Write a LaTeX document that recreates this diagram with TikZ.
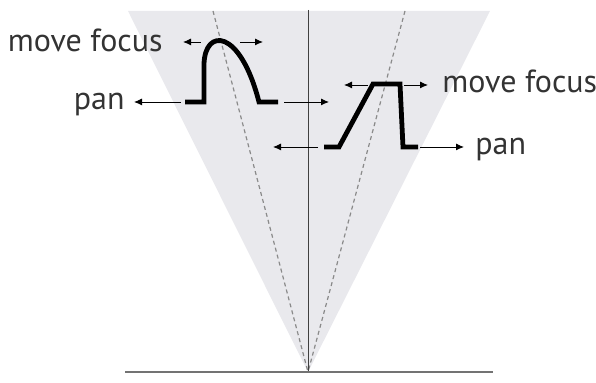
\documentclass[tikz,border=0pt]{standalone}
\usepackage{fontspec}
\setmainfont{PT Sans}
\usepackage{xcolor}
\usetikzlibrary{arrows.meta}

\definecolor{conegray}{HTML}{E9E9ED}
\definecolor{dashgray}{HTML}{8A8A8A}

\begin{document}
\begin{tikzpicture}[
  x=0.5pt,
  y=-0.5pt,
  label text/.style={
    inner sep=0pt,
    font=\fontsize{16}{18}\selectfont,
    text=black!80,
  },
  profile/.style={
    line width=2.4pt,
    line join=miter,
  },
  motion/.style={
    draw,
    line width=0.45pt,
    -{Latex[length=4pt, width=3.5pt]},
  },
]
\useasboundingbox (0,0) rectangle (596,383);

% cone
\coordinate (apex) at (308,372);
\coordinate (coneL) at (128,11);
\coordinate (coneR) at (490,11);
\fill[conegray] (coneL) -- (apex) -- (coneR) -- cycle;
\draw[dashgray, dash pattern=on 2pt off 1.6pt, line width=0.6pt] (213,11) coordinate (dashL) -- (apex);
\draw[dashgray, dash pattern=on 2pt off 1.6pt, line width=0.6pt] (405,11) coordinate (dashR) -- (apex);
\draw[black!75, line width=0.5pt] (308,10) coordinate (axisTop) -- (apex);
\draw[black!55, line width=1.2pt] (125,372) coordinate (floorL) -- (493,372) coordinate (floorR);

% left profile
\draw[profile] (185,102) -- (204,102) -- (204,64)
  .. controls (205,28) and (240,28) .. (259,102) -- (278,102);

% right profile
\draw[profile] (324,147) -- (339,147) -- (373,84) -- (400,84) -- (403,147) -- (418,147);

% labels
\node[label text, anchor=base east] (focusL) at (163,52) {move focus};
\node[label text, anchor=base east] (panL) at (125,110) {pan};
\node[label text, anchor=base west] (focusR) at (442,93) {move focus};
\node[label text, anchor=base west] (panR) at (475,155) {pan};

% motion arrows
\draw[motion] (201,42) coordinate (fl1) -- (183,42) coordinate (fl2);
\draw[motion] (240,42) coordinate (fr1) -- (263,42) coordinate (fr2);
\draw[motion] (181,102) coordinate (pl1) -- (134,102) coordinate (pl2);
\draw[motion] (284,102) coordinate (m1) -- (329,102) coordinate (m2);
\draw[motion] (318,147) coordinate (m3) -- (273,147) coordinate (m4);
\draw[motion] (368,85) coordinate (rl1) -- (344,85) coordinate (rl2);
\draw[motion] (404,85) coordinate (rr1) -- (428,85) coordinate (rr2);
\draw[motion] (420,147) coordinate (pr1) -- (464,147) coordinate (pr2);
\end{tikzpicture}
\end{document}
